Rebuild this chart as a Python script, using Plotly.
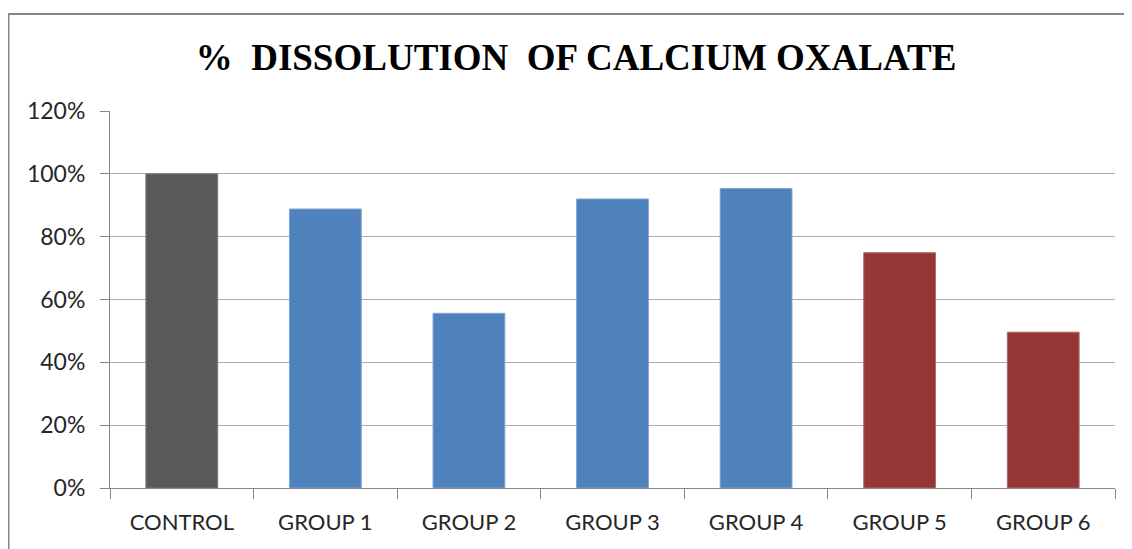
import plotly.graph_objects as go

categories = ["CONTROL", "GROUP 1", "GROUP 2", "GROUP 3", "GROUP 4", "GROUP 5", "GROUP 6"]
values = [1.00, 0.888, 0.556, 0.920, 0.953, 0.749, 0.496]
bar_colors = ["#595959", "#4F81BD", "#4F81BD", "#4F81BD", "#4F81BD", "#953735", "#953735"]
edge_colors = ["#7a7a7a", "#7fa3d1", "#7fa3d1", "#7fa3d1", "#7fa3d1", "#b06a69", "#b06a69"]
title_text = "%&nbsp; DISSOLUTION&nbsp; OF CALCIUM OXALATE"

# page body has an 8px margin, so figure coords = screen coords - 8
OFF = 8
W, H = 1124, 541
L, R, T, B = 110 - OFF, 17, 111 - OFF, 61
pw, ph = W - L - R, H - T - B

def px_x(sx):
    return (sx - OFF - L) / pw

def px_y(sy):
    return (H - B - (sy - OFF)) / ph

fig = go.Figure(go.Bar(
    x=categories, y=values,
    marker=dict(color=bar_colors, line=dict(color=edge_colors, width=1)),
    width=0.5,
))

fig.update_layout(
    width=W, height=H,
    margin=dict(l=L, r=R, t=T, b=B),
    paper_bgcolor="white", plot_bgcolor="white",
    showlegend=False,
    title=dict(
        text="<b>" + title_text + "</b>",
        font=dict(family="Liberation Serif", size=37, color="black"),
        x=(576 - OFF) / W, xanchor="center", y=1 - (57 - OFF) / H, yanchor="middle",
    ),
    font=dict(family="Lato", color="#404040"),
    shapes=[dict(
        type="rect", xref="paper", yref="paper",
        x0=px_x(8.5), x1=px_x(1145), y0=px_y(560), y1=px_y(14),
        line=dict(color="#868686", width=2), fillcolor="rgba(0,0,0,0)", layer="below",
    )],
)

fig.update_yaxes(
    range=[0, 1.2], dtick=0.2, tickformat=".0%",
    showgrid=True, gridcolor="#adadad", gridwidth=1,
    showline=True, linecolor="#868686", linewidth=1,
    ticks="outside", ticklen=9, tickcolor="#868686",
    tickfont=dict(family="Lato", size=23, color="#262626"),
    ticklabelstandoff=10, zeroline=False,
)
fig.update_xaxes(
    showline=True, linecolor="#868686", linewidth=1,
    ticks="outside", ticklen=10, tickcolor="#868686", tickson="boundaries",
    tickfont=dict(family="Lato", size=22, color="#262626"),
    ticklabelstandoff=15, showgrid=False,
)

fig.write_html("out.html")
